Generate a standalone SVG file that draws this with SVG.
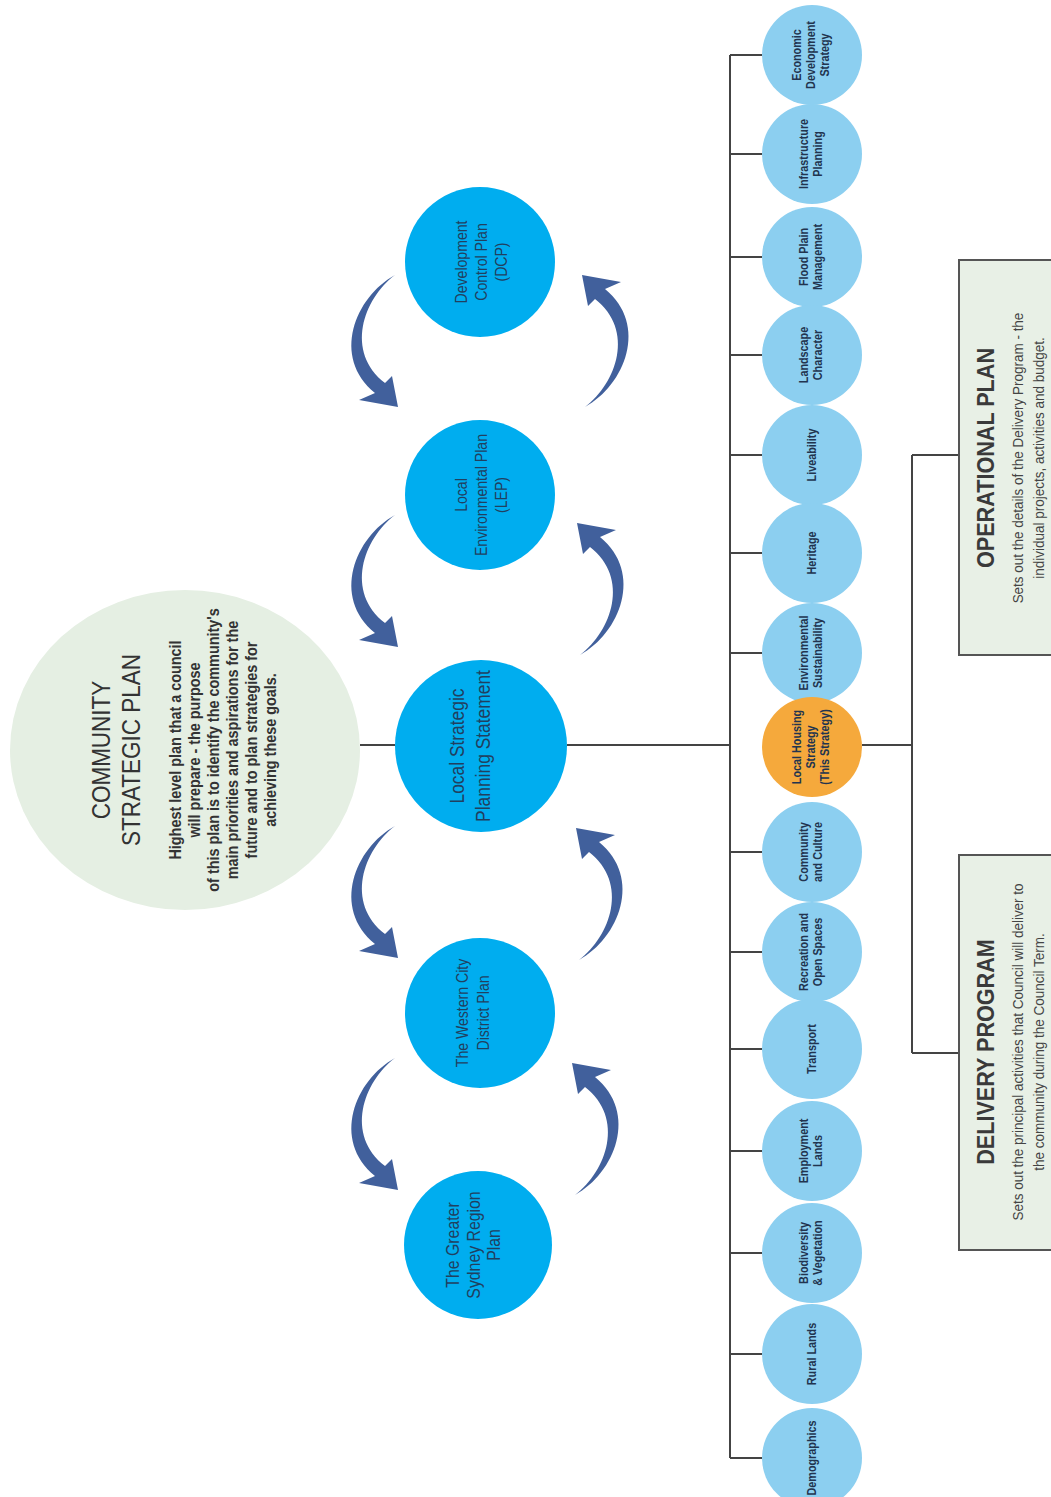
<svg xmlns="http://www.w3.org/2000/svg" xmlns:xlink="http://www.w3.org/1999/xlink" width="1051" height="1497" viewBox="0 0 1051 1497">
<style>
text{font-family:"Liberation Sans",Arial,sans-serif;text-anchor:middle}
.conn{stroke:#444;stroke-width:2;fill:none}
.big{fill:#00adef}
.small{fill:#8ccff0}
.hous{fill:#f5a93c}
.t1{font-size:20px;fill:#20405f}
.t2{font-size:16px;fill:#20405f}
.t3{font-size:18px;fill:#20405f}
.ts{font-size:12px;font-weight:bold;fill:#22344f}
.csph{font-size:25px;fill:#333}
.cspb{font-size:16px;font-weight:bold;fill:#333}
.boxh{font-size:24px;font-weight:bold;fill:#3a3a3a}
.boxb{font-size:15px;fill:#444}
.box{fill:#e8f0e6;stroke:#555;stroke-width:2}
.arrow{fill:#41609c}
</style>
<defs>
<path id="arr" d="M0,0 C-40,22 -64,82 -20,118 L-36,125 L3,132 L-3,101 L-10,108 C-50,77 -32,24 0,0 Z"/>
</defs>

<g id="connectors">
<path class="conn" d="M360,745 H395"/>
<path class="conn" d="M567,745 H730"/>
<path class="conn" d="M730,55 V1458"/>
<path class="conn" d="M730,55 H762 M730,154 H762 M730,257 H762 M730,355 H762 M730,455 H762 M730,553 H762 M730,653 H762 M730,852 H762 M730,952 H762 M730,1049 H762 M730,1151 H762 M730,1253 H762 M730,1354 H762 M730,1458 H762"/>
<path class="conn" d="M862,745 H912 M912,455 V1053 M912,455 H959 M912,1053 H959"/>
<g class="arrow">
<use xlink:href="#arr" transform="translate(395,275)"/>
<use xlink:href="#arr" transform="translate(395,515)"/>
<use xlink:href="#arr" transform="translate(395,826)"/>
<use xlink:href="#arr" transform="translate(395,1058)"/>
<use xlink:href="#arr" transform="translate(585,407) rotate(180)"/>
<use xlink:href="#arr" transform="translate(580,655) rotate(180)"/>
<use xlink:href="#arr" transform="translate(579,960) rotate(180)"/>
<use xlink:href="#arr" transform="translate(575,1195) rotate(180)"/>
</g>
</g>

<g id="csp">
<ellipse cx="185" cy="750" rx="175" ry="160" fill="#e5efe3"/>
<g transform="translate(185,750) rotate(-90) scale(0.9,1)">
<text class="csph" x="0" y="-75">COMMUNITY</text>
<text class="csph" x="0" y="-45">STRATEGIC PLAN</text>
<text class="cspb" x="0" y="-4">Highest level plan that a council</text>
<text class="cspb" x="0" y="15">will prepare - the purpose</text>
<text class="cspb" x="0" y="34">of this plan is to identify the community's</text>
<text class="cspb" x="0" y="53">main priorities and aspirations for the</text>
<text class="cspb" x="0" y="72">future and to plan strategies for</text>
<text class="cspb" x="0" y="91">achieving these goals.</text>
</g>
</g>

<g id="lsps">
<circle class="big" cx="481" cy="746" r="86"/>
<g transform="translate(481,746) rotate(-90) scale(0.87,1)">
<text class="t1" x="0" y="-17">Local Strategic</text>
<text class="t1" x="0" y="9">Planning Statement</text>
</g>
</g>

<g id="dcp">
<circle class="big" cx="480" cy="262" r="75"/>
<g transform="translate(480,262) rotate(-90) scale(0.88,1)">
<text class="t2" x="0" y="-13">Development</text>
<text class="t2" x="0" y="7">Control Plan</text>
<text class="t2" x="0" y="27">(DCP)</text>
</g>
</g>

<g id="lep">
<circle class="big" cx="480" cy="495" r="75"/>
<g transform="translate(480,495) rotate(-90) scale(0.88,1)">
<text class="t2" x="0" y="-13">Local</text>
<text class="t2" x="0" y="7">Environmental Plan</text>
<text class="t2" x="0" y="27">(LEP)</text>
</g>
</g>

<g id="wcdp">
<circle class="big" cx="480" cy="1013" r="75"/>
<g transform="translate(480,1013) rotate(-90) scale(0.88,1)">
<text class="t2" x="0" y="-12">The Western City</text>
<text class="t2" x="0" y="9">District Plan</text>
</g>
</g>

<g id="gsrp">
<circle class="big" cx="478" cy="1245" r="74"/>
<g transform="translate(478,1245) rotate(-90) scale(0.88,1)">
<text class="t3" x="0" y="-19">The Greater</text>
<text class="t3" x="0" y="2">Sydney Region</text>
<text class="t3" x="0" y="22">Plan</text>
</g>
</g>

<g id="economic">
<circle class="small" cx="812" cy="55" r="50"/>
<g transform="translate(812,55) rotate(-90) scale(0.9,1)"><text class="ts" x="0" y="-11">Economic</text><text class="ts" x="0" y="3">Development</text><text class="ts" x="0" y="17">Strategy</text></g>
</g>
<g id="infrastructure">
<circle class="small" cx="812" cy="154" r="50"/>
<g transform="translate(812,154) rotate(-90) scale(0.9,1)"><text class="ts" x="0" y="-4">Infrastructure</text><text class="ts" x="0" y="10">Planning</text></g>
</g>
<g id="flood">
<circle class="small" cx="812" cy="257" r="50"/>
<g transform="translate(812,257) rotate(-90) scale(0.9,1)"><text class="ts" x="0" y="-4">Flood Plain</text><text class="ts" x="0" y="10">Management</text></g>
</g>
<g id="landscape">
<circle class="small" cx="812" cy="355" r="50"/>
<g transform="translate(812,355) rotate(-90) scale(0.9,1)"><text class="ts" x="0" y="-4">Landscape</text><text class="ts" x="0" y="10">Character</text></g>
</g>
<g id="liveability">
<circle class="small" cx="812" cy="455" r="50"/>
<g transform="translate(812,455) rotate(-90) scale(0.9,1)"><text class="ts" x="0" y="4">Liveability</text></g>
</g>
<g id="heritage">
<circle class="small" cx="812" cy="553" r="50"/>
<g transform="translate(812,553) rotate(-90) scale(0.9,1)"><text class="ts" x="0" y="4">Heritage</text></g>
</g>
<g id="environmental">
<circle class="small" cx="812" cy="653" r="50"/>
<g transform="translate(812,653) rotate(-90) scale(0.9,1)"><text class="ts" x="0" y="-4">Environmental</text><text class="ts" x="0" y="10">Sustainability</text></g>
</g>
<g id="housing">
<circle class="hous" cx="812" cy="747" r="50"/>
<g transform="translate(812,747) rotate(-90) scale(0.9,1)"><text class="ts" x="0" y="-11">Local Housing</text><text class="ts" x="0" y="3">Strategy</text><text class="ts" x="0" y="17">(This Strategy)</text></g>
</g>
<g id="community">
<circle class="small" cx="812" cy="852" r="50"/>
<g transform="translate(812,852) rotate(-90) scale(0.9,1)"><text class="ts" x="0" y="-4">Community</text><text class="ts" x="0" y="10">and Culture</text></g>
</g>
<g id="recreation">
<circle class="small" cx="812" cy="952" r="50"/>
<g transform="translate(812,952) rotate(-90) scale(0.9,1)"><text class="ts" x="0" y="-4">Recreation and</text><text class="ts" x="0" y="10">Open Spaces</text></g>
</g>
<g id="transport">
<circle class="small" cx="812" cy="1049" r="50"/>
<g transform="translate(812,1049) rotate(-90) scale(0.9,1)"><text class="ts" x="0" y="4">Transport</text></g>
</g>
<g id="employment">
<circle class="small" cx="812" cy="1151" r="50"/>
<g transform="translate(812,1151) rotate(-90) scale(0.9,1)"><text class="ts" x="0" y="-4">Employment</text><text class="ts" x="0" y="10">Lands</text></g>
</g>
<g id="biodiversity">
<circle class="small" cx="812" cy="1253" r="50"/>
<g transform="translate(812,1253) rotate(-90) scale(0.9,1)"><text class="ts" x="0" y="-4">Biodiversity</text><text class="ts" x="0" y="10">&amp; Vegetation</text></g>
</g>
<g id="rural">
<circle class="small" cx="812" cy="1354" r="50"/>
<g transform="translate(812,1354) rotate(-90) scale(0.9,1)"><text class="ts" x="0" y="4">Rural Lands</text></g>
</g>
<g id="demographics">
<circle class="small" cx="812" cy="1458" r="50"/>
<g transform="translate(812,1458) rotate(-90) scale(0.9,1)"><text class="ts" x="0" y="4">Demographics</text></g>
</g>

<g id="operational">
<rect class="box" x="959" y="260" width="120" height="395"/>
<g transform="translate(1000,458) rotate(-90) scale(0.9,1)">
<text class="boxh" x="0" y="-6">OPERATIONAL PLAN</text>
<text class="boxb" x="0" y="23">Sets out the details of the Delivery Program - the</text>
<text class="boxb" x="0" y="44">individual projects, activities and budget.</text>
</g>
</g>

<g id="delivery">
<rect class="box" x="959" y="855" width="120" height="395"/>
<g transform="translate(1000,1052) rotate(-90) scale(0.9,1)">
<text class="boxh" x="0" y="-6">DELIVERY PROGRAM</text>
<text class="boxb" x="0" y="23">Sets out the principal activities that Council will deliver to</text>
<text class="boxb" x="0" y="44">the community during the Council Term.</text>
</g>
</g>
</svg>
